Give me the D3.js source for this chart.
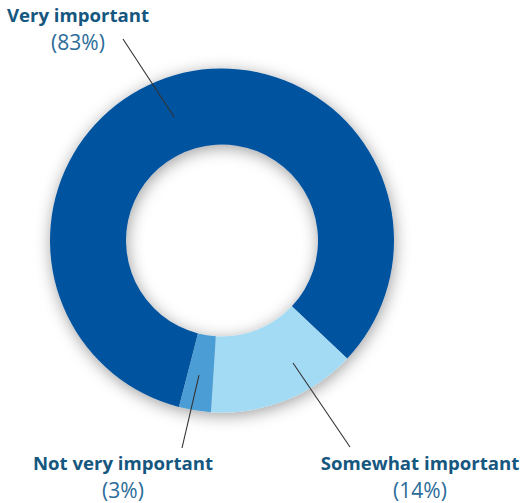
<!DOCTYPE html>
<html>
<head>
<meta charset="utf-8">
<script src="https://cdn.jsdelivr.net/npm/d3@7"></script>
<style>
  body { margin: 0; background: #fff; }
  .lbl { font-family: 'Open Sans', sans-serif; font-weight: 700; fill: #15577f; }
  .pct { font-family: 'Open Sans', sans-serif; font-weight: 400; fill: #2b6c99; }
</style>
</head>
<body>
<script>
const categories = ['Very important', 'Somewhat important', 'Not very important']
const shares = [83, 14, 3]
const pctLabels = ['(83%)', '(14%)', '(3%)']

const WIDTH = 531
const HEIGHT = 503

const center = { x: 222, y: 240.5 }
const R_OUT = 172
const R_IN = 96
const START = -165.5 * Math.PI / 180
const DEG = Math.PI / 180

const colors = d3.scaleOrdinal()
  .domain(categories)
  .range(['#06529e', '#a3dbf5', '#4b9dd5'])

// label spot, leader end, and where the leader starts relative to the slice middle
const layout = {
  'Very important': { x: 78, y: 22, lineEnd: [123, 39], r: 132.5, da: -5.1 },
  'Somewhat important': { x: 420, y: 470, lineEnd: [350, 447], r: 141.6, da: -8.6 },
  'Not very important': { x: 123, y: 470, lineEnd: [182, 448], r: 136.5, da: 0.6 },
}

const svg = d3.select('body')
  .append('svg')
  .attr('width', WIDTH)
  .attr('height', HEIGHT)

const defs = svg.append('defs')
const shadow = defs.append('filter')
  .attr('id', 'shadow')
  .attr('x', '-25%').attr('y', '-25%')
  .attr('width', '150%').attr('height', '150%')
shadow.append('feDropShadow')
  .attr('dx', 1)
  .attr('dy', 3)
  .attr('stdDeviation', 8)
  .attr('flood-color', '#000')
  .attr('flood-opacity', 0.38)

const data = categories.map((c, i) => ({ name: c, value: shares[i], pct: pctLabels[i] }))

const pie = d3.pie()
  .sort(null)
  .value(d => d.value)
  .startAngle(START)
  .endAngle(START + 2 * Math.PI)

const arc = d3.arc()
  .innerRadius(R_IN)
  .outerRadius(R_OUT)

const arcs = pie(data)

const g = svg.append('g')
  .attr('transform', 'translate(' + center.x + ',' + center.y + ')')

g.append('g')
  .attr('filter', 'url(#shadow)')
  .selectAll('path')
  .data(arcs)
  .enter()
  .append('path')
  .attr('d', arc)
  .attr('fill', d => colors(d.data.name))

const leadStart = d => {
  const L = layout[d.data.name]
  const a = (d.startAngle + d.endAngle) / 2 + L.da * DEG
  return [center.x + L.r * Math.sin(a), center.y - L.r * Math.cos(a)]
}

// leader lines
svg.selectAll('line.leader')
  .data(arcs)
  .enter()
  .append('line')
  .attr('class', 'leader')
  .attr('x1', d => leadStart(d)[0])
  .attr('y1', d => leadStart(d)[1])
  .attr('x2', d => layout[d.data.name].lineEnd[0])
  .attr('y2', d => layout[d.data.name].lineEnd[1])
  .attr('stroke', '#333')
  .attr('stroke-width', 1.1)

svg.selectAll('text.lbl')
  .data(data)
  .enter()
  .append('text')
  .attr('class', 'lbl')
  .attr('x', d => layout[d.name].x)
  .attr('y', d => layout[d.name].y)
  .attr('text-anchor', 'middle')
  .style('font-size', '18.6px')
  .text(d => d.name)

svg.selectAll('text.pct')
  .data(data)
  .enter()
  .append('text')
  .attr('class', 'pct')
  .attr('x', d => layout[d.name].x)
  .attr('y', d => layout[d.name].y + 27.5)
  .attr('text-anchor', 'middle')
  .style('font-size', '21px')
  .text(d => d.pct)
</script>
</body>
</html>
